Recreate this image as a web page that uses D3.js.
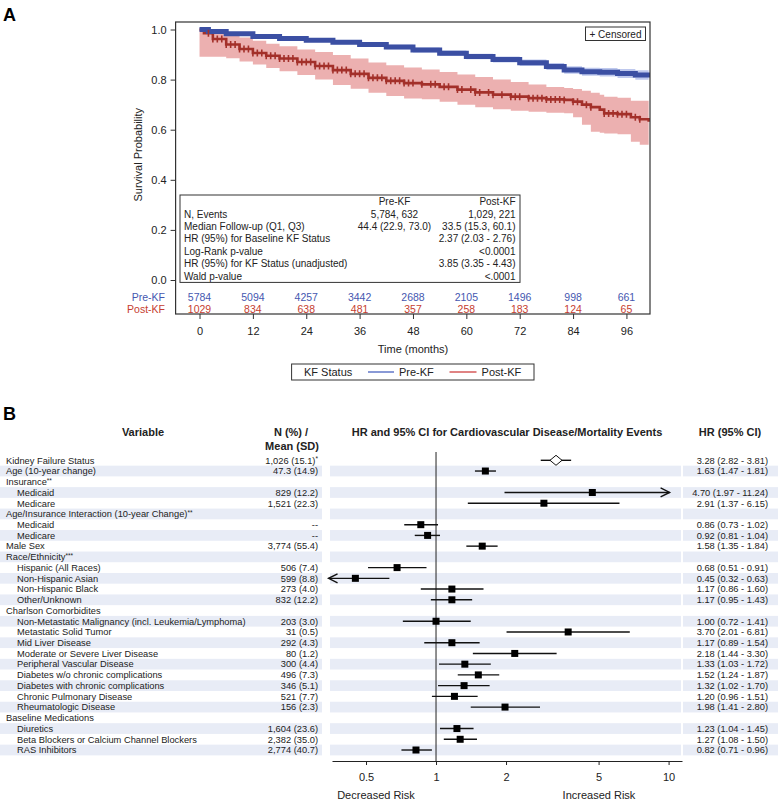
<!DOCTYPE html>
<html><head><meta charset="utf-8">
<script src="https://cdn.jsdelivr.net/npm/d3@7"></script>
<style>body{margin:0;background:#fff;} svg{display:block;font-family:"Liberation Sans",Arial,Helvetica,sans-serif;}</style>
</head><body><svg id="c" width="778" height="801"></svg>
<script>
// ---------------- Panel A data ----------------
const preTime  = [0, 2, 6, 12, 18, 24, 30, 36, 42, 48, 54, 60, 66, 72, 78, 82, 86, 90, 94, 98, 101];
const preSurv  = [1.0, 0.992, 0.983, 0.972, 0.964, 0.957, 0.949, 0.940, 0.930, 0.918, 0.905, 0.892, 0.880, 0.867, 0.852, 0.838, 0.831, 0.829, 0.824, 0.818, 0.808];
const preLower = [1.0, 0.989, 0.979, 0.967, 0.958, 0.950, 0.941, 0.931, 0.921, 0.908, 0.894, 0.881, 0.868, 0.854, 0.838, 0.823, 0.815, 0.812, 0.806, 0.799, 0.789];
const preUpper = [1.0, 0.995, 0.987, 0.977, 0.970, 0.964, 0.957, 0.949, 0.939, 0.928, 0.916, 0.903, 0.892, 0.880, 0.866, 0.853, 0.847, 0.846, 0.842, 0.837, 0.827];

const postTime  = [0, 1, 3, 6, 9, 12, 15, 18, 22, 26, 30, 34, 38, 42, 46, 50, 54, 58, 62, 66, 70, 74, 78, 82, 84, 86, 88, 90, 91, 94, 97, 99, 101];
const postSurv  = [1.0, 0.985, 0.962, 0.940, 0.922, 0.906, 0.895, 0.884, 0.870, 0.854, 0.838, 0.823, 0.807, 0.795, 0.786, 0.781, 0.771, 0.760, 0.749, 0.740, 0.732, 0.726, 0.721, 0.719, 0.712, 0.700, 0.690, 0.680, 0.665, 0.662, 0.650, 0.642, 0.632];
const postUpper = [1.0, 1.0, 0.995, 0.982, 0.968, 0.955, 0.943, 0.933, 0.920, 0.910, 0.898, 0.884, 0.868, 0.857, 0.848, 0.840, 0.830, 0.820, 0.810, 0.800, 0.790, 0.780, 0.770, 0.766, 0.762, 0.755, 0.748, 0.740, 0.732, 0.728, 0.716, 0.716, 0.716];
const postLower = [0.891, 0.891, 0.891, 0.885, 0.872, 0.860, 0.846, 0.833, 0.818, 0.800, 0.778, 0.763, 0.748, 0.735, 0.725, 0.722, 0.712, 0.700, 0.690, 0.682, 0.676, 0.672, 0.668, 0.666, 0.650, 0.620, 0.592, 0.588, 0.585, 0.582, 0.552, 0.540, 0.524];

const censorPost = [2,3,4,5,6,7,8,9,10,11,12,13,14,15,16,17,18,19,20,21,22,23,24,25,26,27,28,29,30,31,32,33,34,35,36,37,38,39,40,41,42,43,44,45,46,47,48,50,52,53,55,56,58,59,61,62,63,65,66,68,70,71,72,74,75,76,77,78,79,80,81,82,84,85,87,88,91,92,93,94,95,96,98,99];

const atRiskTimes = [0, 12, 24, 36, 48, 60, 72, 84, 96];
const atRiskPre  = [5784, 5094, 4257, 3442, 2688, 2105, 1496, 998, 661];
const atRiskPost = [1029, 834, 638, 481, 357, 258, 183, 124, 65];
const survYTicks = [0, 0.2, 0.4, 0.6, 0.8, 1.0];
const groups = ["Pre-KF", "Post-KF"];

const statLabels = ["N, Events", "Median Follow-up (Q1, Q3)", "HR (95%) for Baseline KF Status", "Log-Rank p-value", "HR (95%) for KF Status (unadjusted)", "Wald p-value"];
const statPre  = ["5,784, 632", "44.4 (22.9, 73.0)", "", "", "", ""];
const statPost = ["1,029, 221", "33.5 (15.3, 60.1)", "2.37 (2.03 - 2.76)", "<0.0001", "3.85 (3.35 - 4.43)", "<.0001"];

// ---------------- Panel B data ----------------
const variables = ["Kidney Failure Status", "Age (10-year change)", "Insurance**", "Medicaid", "Medicare",
  "Age/Insurance Interaction (10-year Change)**", "Medicaid", "Medicare", "Male Sex", "Race/Ethnicity***",
  "Hispanic (All Races)", "Non-Hispanic Asian", "Non-Hispanic Black", "Other/Unknown", "Charlson Comorbidites",
  "Non-Metastatic Malignancy (incl. Leukemia/Lymphoma)", "Metastatic Solid Tumor", "Mid Liver Disease",
  "Moderate or Severe Liver Disease", "Peripheral Vascular Disease", "Diabetes w/o chronic complications",
  "Diabetes with chronic complications", "Chronic Pulmonary Disease", "Rheumatologic Disease", "Baseline Medications",
  "Diuretics", "Beta Blockers or Calcium Channel Blockers", "RAS Inhibitors"];
const indented = [0,0,0,1,1,0,1,1,0,0,1,1,1,1,0,1,1,1,1,1,1,1,1,1,0,1,1,1];
const nText = ["1,026 (15.1)*", "47.3 (14.9)", "", "829 (12.2)", "1,521 (22.3)", "", "--", "--", "3,774 (55.4)", "",
  "506 (7.4)", "599 (8.8)", "273 (4.0)", "832 (12.2)", "", "203 (3.0)", "31 (0.5)", "292 (4.3)", "80 (1.2)", "300 (4.4)",
  "496 (7.3)", "346 (5.1)", "521 (7.7)", "156 (2.3)", "", "1,604 (23.6)", "2,382 (35.0)", "2,774 (40.7)"];
const hrEst = [3.28, 1.63, null, 4.70, 2.91, null, 0.86, 0.92, 1.58, null, 0.68, 0.45, 1.17, 1.17, null, 1.00, 3.70, 1.17, 2.18, 1.33, 1.52, 1.32, 1.20, 1.98, null, 1.23, 1.27, 0.82];
const hrLow = [2.82, 1.47, null, 1.97, 1.37, null, 0.73, 0.81, 1.35, null, 0.51, 0.32, 0.86, 0.95, null, 0.72, 2.01, 0.89, 1.44, 1.03, 1.24, 1.02, 0.96, 1.41, null, 1.04, 1.08, 0.71];
const hrHigh = [3.81, 1.81, null, 11.24, 6.15, null, 1.02, 1.04, 1.84, null, 0.91, 0.63, 1.60, 1.43, null, 1.41, 6.81, 1.54, 3.30, 1.72, 1.87, 1.70, 1.51, 2.80, null, 1.45, 1.50, 0.96];
const forestTicks = [0.5, 1, 2, 5, 10];

// ---------------- drawing ----------------
const svg = d3.select("#c");
const blue = "#3b4fa3", red = "#a3302a";

// Panel label A
svg.append("text").attr("x", 3).attr("y", 21).attr("font-size", 18).attr("font-weight", "bold").text("A");

const fx0 = 175.6, fx1 = 650, fy0 = 22, fy1 = 314;
const xS = d3.scaleLinear().domain([-5.38, 101.3]).range([fx0, fx1]);
const yS = d3.scaleLinear().domain([0, 1]).range([280, 29.5]);

svg.append("clipPath").attr("id", "fr").append("rect").attr("x", fx0).attr("y", fy0).attr("width", fx1 - fx0).attr("height", fy1 - fy0);
const plot = svg.append("g").attr("clip-path", "url(#fr)");

const mk = (t, s, lo, up) => t.map((d, i) => ({t: d, s: s[i], lo: lo[i], up: up[i]}));
const pre = mk(preTime, preSurv, preLower, preUpper);
const post = mk(postTime, postSurv, postLower, postUpper);

const band = d3.area().x(d => xS(d.t)).y0(d => yS(d.lo)).y1(d => yS(d.up)).curve(d3.curveStepAfter);
const line = d3.line().x(d => xS(d.t)).y(d => yS(d.s)).curve(d3.curveStepAfter);

plot.append("path").attr("d", band(post)).attr("fill", "#e07b7b").attr("fill-opacity", 0.6);
plot.append("path").attr("d", band(pre)).attr("fill", "#6f86d6").attr("fill-opacity", 0.45);
plot.append("path").attr("d", line(post)).attr("fill", "none").attr("stroke", red).attr("stroke-width", 2.6);
plot.append("path").attr("d", line(pre)).attr("fill", "none").attr("stroke", blue).attr("stroke-width", 5);

const bis = d3.bisector(d => d.t).right;
plot.selectAll(".cp").data(censorPost).join("line")
  .attr("x1", d => xS(d)).attr("x2", d => xS(d))
  .attr("y1", d => yS(post[Math.max(0, bis(post, d) - 1)].s) - 3.5)
  .attr("y2", d => yS(post[Math.max(0, bis(post, d) - 1)].s) + 3.5)
  .attr("stroke", red).attr("stroke-width", 1.6);

// frame
svg.append("rect").attr("x", fx0).attr("y", fy0).attr("width", fx1 - fx0).attr("height", fy1 - fy0)
  .attr("fill", "none").attr("stroke", "#333").attr("stroke-width", 1.2);

// y axis
const yAx = svg.append("g").attr("transform", `translate(${fx0},0)`)
  .call(d3.axisLeft(yS).tickValues(survYTicks).tickFormat(d3.format(".1f")).tickSize(5).tickSizeOuter(0));
yAx.select(".domain").remove();
yAx.selectAll("line").attr("stroke", "#333");
yAx.selectAll("text").attr("font-size", 11).attr("fill", "#222").attr("font-family", null).attr("x", -9);

svg.append("text").attr("transform", `translate(142,${(yS(0) + yS(1)) / 2}) rotate(-90)`)
  .attr("text-anchor", "middle").attr("font-size", 11).attr("fill", "#222").text("Survival Probability");

// x axis
const xAx = svg.append("g").attr("transform", `translate(0,${fy1})`)
  .call(d3.axisBottom(xS).tickValues(atRiskTimes).tickSize(5).tickSizeOuter(0));
xAx.select(".domain").remove();
xAx.selectAll("line").attr("stroke", "#333");
xAx.selectAll("text").attr("font-size", 11).attr("fill", "#222").attr("font-family", null).attr("y", 13);
svg.append("text").attr("x", (xS(0) + xS(96)) / 2).attr("y", 353).attr("text-anchor", "middle")
  .attr("font-size", 11).attr("fill", "#222").text("Time (months)");

// at-risk rows
const riskRows = [{name: groups[0], vals: atRiskPre, col: "#4557b0", y: 300.5}, {name: groups[1], vals: atRiskPost, col: "#c63d30", y: 312.5}];
riskRows.forEach(r => {
  svg.append("text").attr("x", 165).attr("y", r.y).attr("text-anchor", "end").attr("font-size", 10.5).attr("fill", r.col).text(r.name);
  svg.selectAll(null).data(r.vals).join("text").attr("x", (d, i) => xS(atRiskTimes[i])).attr("y", r.y)
    .attr("text-anchor", "middle").attr("font-size", 10.5).attr("fill", r.col).text(d => d);
});

// censored box
svg.append("rect").attr("x", 585.5).attr("y", 27).attr("width", 60).attr("height", 13.5).attr("fill", "#fff").attr("stroke", "#333").attr("stroke-width", 1);
svg.append("text").attr("x", 615.5).attr("y", 37.5).attr("text-anchor", "middle").attr("font-size", 10).attr("fill", "#222").text("+ Censored");

// inset stats table
svg.append("rect").attr("x", 180).attr("y", 195).attr("width", 340).attr("height", 87.4).attr("fill", "#fff").attr("stroke", "#333").attr("stroke-width", 1);
const sy = [214, 226.4, 238.8, 251.2, 263.6, 276];
svg.append("text").attr("x", 394.5).attr("y", 204.5).attr("text-anchor", "middle").attr("font-size", 10).attr("fill", "#222").text(groups[0]);
svg.append("text").attr("x", 515.5).attr("y", 204.5).attr("text-anchor", "end").attr("font-size", 10).attr("fill", "#222").text(groups[1]);
statLabels.forEach((s, i) => {
  svg.append("text").attr("x", 184).attr("y", sy[i] + 3.5).attr("font-size", 10).attr("fill", "#222").text(s);
  svg.append("text").attr("x", 394.5).attr("y", sy[i] + 3.5).attr("text-anchor", "middle").attr("font-size", 10).attr("fill", "#222").text(statPre[i]);
  svg.append("text").attr("x", 515.5).attr("y", sy[i] + 3.5).attr("text-anchor", "end").attr("font-size", 10).attr("fill", "#222").text(statPost[i]);
});

// legend
const lg = svg.append("g");
lg.append("rect").attr("x", 291.6).attr("y", 364).attr("width", 242.4).attr("height", 16).attr("fill", "#fff").attr("stroke", "#333").attr("stroke-width", 1);
lg.append("text").attr("x", 304).attr("y", 376).attr("font-size", 11).attr("fill", "#222").text("KF Status");
lg.append("line").attr("x1", 368).attr("x2", 394).attr("y1", 372).attr("y2", 372).attr("stroke", "#4a62c0").attr("stroke-width", 1.3);
lg.append("text").attr("x", 399).attr("y", 376).attr("font-size", 11).attr("fill", "#222").text(groups[0]);
lg.append("line").attr("x1", 449.5).attr("x2", 476.5).attr("y1", 372).attr("y2", 372).attr("stroke", "#d04040").attr("stroke-width", 1.3);
lg.append("text").attr("x", 481.6).attr("y", 376).attr("font-size", 11).attr("fill", "#222").text(groups[1]);

// ---------------- Panel B ----------------
svg.append("text").attr("x", 3).attr("y", 420).attr("font-size", 18).attr("font-weight", "bold").text("B");

const hdr = (x, y, t, anchor) => svg.append("text").attr("x", x).attr("y", y).attr("text-anchor", anchor || "middle")
  .attr("font-size", 11).attr("font-weight", "bold").attr("fill", "#222").text(t);
hdr(143, 435.5, "Variable");
hdr(291, 435.5, "N (%) /");
hdr(292, 450, "Mean (SD)");
hdr(507, 435.5, "HR and 95% CI for Cardiovascular Disease/Mortality Events");
hdr(730, 435.5, "HR (95% CI)");

const row0 = 460.3, rowH = 10.73;
const rowY = i => row0 + i * rowH;
const bandCol = "#e8ecf6";
const segs = [[0, 322], [330, 681], [683, 778]];
variables.forEach((v, i) => {
  if (i % 2 === 1) segs.forEach(s => svg.append("rect").attr("x", s[0]).attr("y", rowY(i) - rowH / 2).attr("width", s[1] - s[0]).attr("height", rowH).attr("fill", bandCol));
});

const xF = d3.scaleLog().domain([0.357, 11.42]).range([332, 682]);
const clipLo = 0.345, clipHi = 10.1;

// reference line
svg.append("line").attr("x1", xF(1)).attr("x2", xF(1)).attr("y1", 452).attr("y2", 761).attr("stroke", "#222").attr("stroke-width", 1);

const fs = 9.3;
variables.forEach((v, i) => {
  const y = rowY(i) + 3.3;
  const m = v.match(/^(.*?)(\*+)$/);
  const t = svg.append("text").attr("x", indented[i] ? 17 : 6).attr("y", y).attr("font-size", fs).attr("fill", "#222");
  if (m) { t.append("tspan").text(m[1]); t.append("tspan").attr("font-size", 6.5).attr("dy", -2.5).text(m[2]); }
  else t.text(v);
  if (nText[i]) {
    const m2 = nText[i].match(/^(.*?)(\*+)$/);
    const tn = svg.append("text").attr("x", 318).attr("y", y).attr("text-anchor", "end").attr("font-size", fs).attr("fill", "#222");
    if (m2) { tn.append("tspan").text(m2[1]); tn.append("tspan").attr("font-size", 6.5).attr("dy", -2.5).text(m2[2]); }
    else tn.text(nText[i]);
  }
  if (hrEst[i] !== null) {
    svg.append("text").attr("x", 768).attr("y", y).attr("text-anchor", "end").attr("font-size", fs).attr("fill", "#222")
      .text(`${hrEst[i].toFixed(2)} (${hrLow[i].toFixed(2)} - ${hrHigh[i].toFixed(2)})`);
    const yc = rowY(i);
    const lo = Math.max(hrLow[i], clipLo), hi = Math.min(hrHigh[i], clipHi);
    svg.append("line").attr("x1", xF(lo)).attr("x2", xF(hi)).attr("y1", yc).attr("y2", yc).attr("stroke", "#111").attr("stroke-width", 1.4);
    if (hrHigh[i] > clipHi) {
      const ax = xF(clipHi);
      svg.append("path").attr("d", `M${ax - 9},${yc - 4.5}L${ax},${yc}L${ax - 9},${yc + 4.5}`).attr("fill", "none").attr("stroke", "#111").attr("stroke-width", 1.4);
    }
    if (hrLow[i] < clipLo) {
      const ax = xF(clipLo);
      svg.append("path").attr("d", `M${ax + 9},${yc - 4.5}L${ax},${yc}L${ax + 9},${yc + 4.5}`).attr("fill", "none").attr("stroke", "#111").attr("stroke-width", 1.4);
    }
    const cx = xF(hrEst[i]);
    if (i === 0) {
      svg.append("path").attr("d", `M${cx - 6},${yc}L${cx},${yc - 5}L${cx + 6},${yc}L${cx},${yc + 5}Z`).attr("fill", "#fff").attr("stroke", "#111").attr("stroke-width", 1);
    } else {
      svg.append("rect").attr("x", cx - 3.5).attr("y", yc - 3.5).attr("width", 7).attr("height", 7).attr("fill", "#000");
    }
  }
});

// forest axis
const fAx = svg.append("g").attr("transform", "translate(0,761)")
  .call(d3.axisBottom(xF).tickValues(forestTicks).tickFormat(d => String(d)).tickSize(4).tickSizeOuter(0));
fAx.select(".domain").attr("stroke", "#222");
fAx.selectAll("line").attr("stroke", "#222");
fAx.selectAll("text").attr("font-size", 11).attr("fill", "#222").attr("font-family", null).attr("y", 12);
svg.append("text").attr("x", 376).attr("y", 799).attr("text-anchor", "middle").attr("font-size", 11).attr("fill", "#222").text("Decreased Risk");
svg.append("text").attr("x", 599).attr("y", 799).attr("text-anchor", "middle").attr("font-size", 11).attr("fill", "#222").text("Increased Risk");
</script></body></html>
